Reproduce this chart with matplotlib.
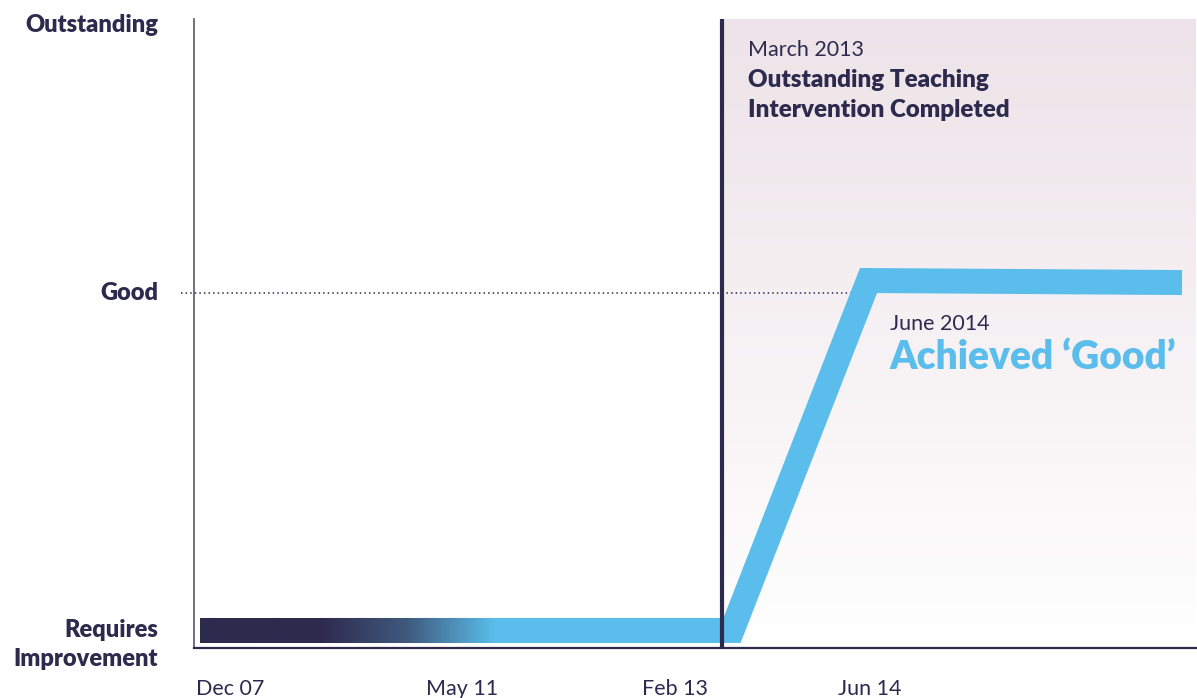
import numpy as np
import matplotlib
matplotlib.use('Agg')
import matplotlib.pyplot as plt
from matplotlib.colors import LinearSegmentedColormap

# Data
levels = ['Requires\nImprovement', 'Good', 'Outstanding']
level_values = [0.0, 1.0, 1.794]

tick_labels = ['Dec 07', 'May 11', 'Feb 13', 'Jun 14']
tick_positions = [36, 268, 481, 676]

# rating trajectory (timeline position, rating level)
line_x = [6, 538, 674.5, 988]
line_y = [0.0, 0.0, 1.037, 1.031]
gradient_start = 126     # end of dark section
gradient_end = 301       # fully light blue from here

intervention_x = 528
intervention_label = 'March 2013'
intervention_text = ['Outstanding Teaching', 'Intervention Completed']
good_label = 'June 2014'
good_text = 'Achieved \u2018Good\u2019'

navy = '#2e2a4e'
blue = '#5abdeb'
pink = '#ede3e8'
FONT = 'Lato'
BOLD = 'heavy'
LIGHT = 'normal'

W, H = 1197, 698
fig = plt.figure(figsize=(W / 100, H / 100), dpi=100)
ax = fig.add_axes([194 / W, 50 / H, 1003 / W, 629 / H])
ax.set_xlim(0, 1003)
ax.set_ylim(-0.052, 1.812)

# shaded post-intervention area (fades downwards)
shade_cmap = LinearSegmentedColormap.from_list('shade', ['white', pink])
grad = np.linspace(0, 1, 256).reshape(-1, 1)
ax.imshow(grad, cmap=shade_cmap, origin='lower', aspect='auto',
          extent=[intervention_x, 1001, -0.052, 1.812], zorder=0)

# dotted "Good" reference line
ax.plot([-13, 660], [1, 1], ls=(0, (1, 2)), color=navy, lw=1.1, clip_on=False, zorder=1)

# thick rating line
lw_px = 25
lw_pt = lw_px * 72 / fig.dpi
ax.plot(line_x, line_y, color=blue, lw=lw_pt, solid_joinstyle='miter',
        solid_capstyle='butt', zorder=2)

# dark-to-blue gradient on the start of the line
ax_h_px = 629
half = (lw_px / 2) * (1.812 + 0.052) / ax_h_px
xs = np.linspace(line_x[0], gradient_end, 400)
t = np.clip((xs - gradient_start) / (gradient_end - gradient_start), 0, 1)
line_cmap = LinearSegmentedColormap.from_list('line', [navy, '#3f5a7e', blue])
ax.imshow(t.reshape(1, -1), cmap=line_cmap, vmin=0, vmax=1, aspect='auto',
          extent=[line_x[0], gradient_end, -half, half], zorder=3, interpolation='bilinear')

# intervention marker
ax.axvline(intervention_x, color=navy, lw=3, zorder=4)

# axes styling
for s in ['top', 'right']:
    ax.spines[s].set_visible(False)
ax.spines['left'].set_color('#5a5670')
ax.spines['left'].set_linewidth(1.2)
ax.spines['bottom'].set_color(navy)
ax.spines['bottom'].set_linewidth(1.6)
ax.set_yticks([])
ax.set_xticks(tick_positions)
ax.set_xticklabels(tick_labels, fontfamily=FONT, fontweight=LIGHT, fontsize=15.5, color=navy)
ax.tick_params(axis='x', length=0, pad=22)

# level labels
for name, val in zip(levels, level_values):
    parts = name.split('\n')
    for i, part in enumerate(parts):
        ax.text(-36, val - 0.084 * i, part, ha='right', va='center', fontfamily=FONT,
                fontweight=BOLD, fontsize=17, color=navy, clip_on=False)

# annotations
ax.text(554, 1.72, intervention_label, ha='left', va='center', fontfamily=FONT,
        fontweight=LIGHT, fontsize=15.5, color=navy)
ax.text(554, 1.631, intervention_text[0], ha='left', va='center', fontfamily=FONT,
        fontweight=BOLD, fontsize=17.4, color=navy)
ax.text(554, 1.542, intervention_text[1], ha='left', va='center', fontfamily=FONT,
        fontweight=BOLD, fontsize=17.4, color=navy)
ax.text(696, 0.908, good_label, ha='left', va='center', fontfamily=FONT,
        fontweight=LIGHT, fontsize=15.5, color=navy)
ax.text(696, 0.81, good_text, ha='left', va='center', fontfamily=FONT,
        fontweight=BOLD, fontsize=28, color=blue)

fig.savefig('out.png', dpi=100)
